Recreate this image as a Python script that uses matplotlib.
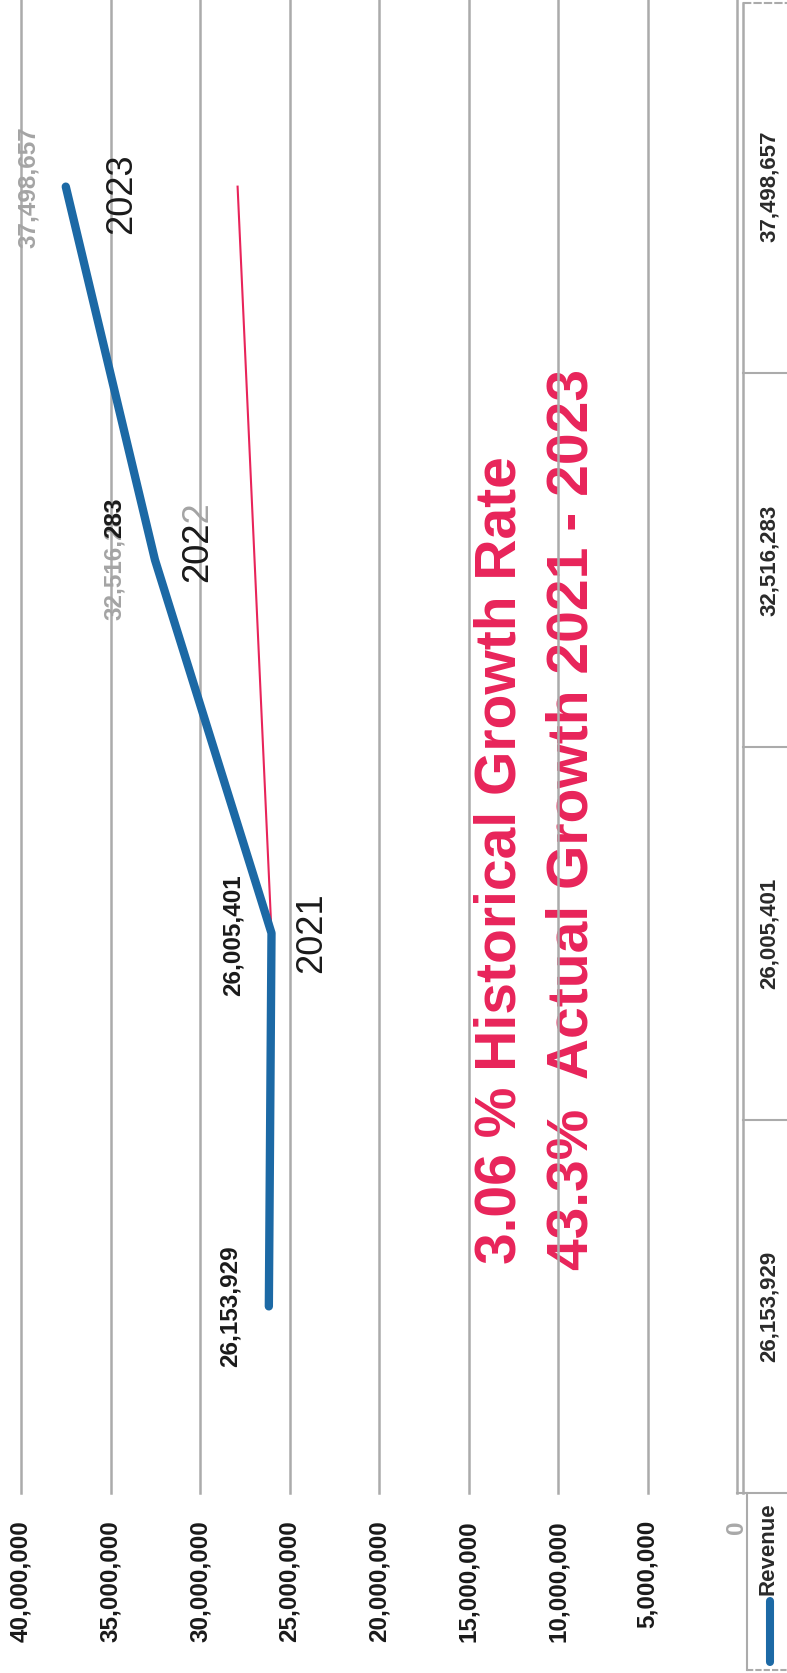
import matplotlib
matplotlib.use("Agg")
import matplotlib.pyplot as plt
import matplotlib.transforms as mtransforms

plt.rcParams['font.family'] = ['Liberation Sans', 'DejaVu Sans']

# ---------------- data ----------------
cat_index = [0, 1, 2, 3]
year_labels = ["", "2021", "2022", "2023"]
revenue = [26153929, 26005401, 32516283, 37498657]
revenue_text = ["26,153,929", "26,005,401", "32,516,283", "37,498,657"]
trend_index = [1, 3]
trend_values = [26005401, 27900000]
value_ticks = [0, 5000000, 10000000, 15000000, 20000000, 25000000, 30000000, 35000000, 40000000]
value_tick_labels = ["0", "5,000,000", "10,000,000", "15,000,000", "20,000,000",
                     "25,000,000", "30,000,000", "35,000,000", "40,000,000"]
series_name = "Revenue"
note1 = "3.06 % Historical Growth Rate"
note2 = "43.3%  Actual Growth 2021 - 2023"

W, H = 787, 1673
BLUE = '#1c69a5'
RED = '#e8245a'
GRID = '#ababab'
GREYTXT = '#a4a4a4'
DARK = '#1a1a1a'

fig = plt.figure(figsize=(W / 100, H / 100), dpi=100)
fig.patch.set_facecolor('white')

# overlay in pixel coordinates
ov = fig.add_axes([0, 0, 1, 1], zorder=0)
ov.set_xlim(0, W)
ov.set_ylim(H, 0)
ov.axis('off')

# main chart axes (rotated layout: value horizontal, categories vertical)
x_left, x_right, y_bottom = 21, 737, 1493
ax = fig.add_axes([x_left / W, (H - y_bottom) / H, (x_right - x_left) / W, y_bottom / H], zorder=1)
ax.patch.set_alpha(0)
ax.set_xlim(40000000, 0)
ax.set_ylim(-0.5, 3.5)
for s in ax.spines.values():
    s.set_visible(False)
ax.set_yticks([])
ax.set_xticks(value_ticks)
ax.set_xticklabels(value_tick_labels, rotation=90, fontsize=17.5, fontweight='bold',
                   color=DARK, ha='center', va='top')
ax.tick_params(axis='x', length=0, pad=19.5)
tl = ax.get_xticklabels()
tl[0].set_color('#a8a8a8')
ax.grid(axis='x', color=GRID, lw=1.8)
ax.set_axisbelow(True)
for gl in ax.get_xgridlines():
    gl.set_clip_on(False)

# series line and trend line
ax.plot(trend_values, trend_index, color=RED, lw=1.5, zorder=3, clip_on=False)
ax.plot(revenue, cat_index, color=BLUE, lw=6.0, solid_capstyle='round',
        solid_joinstyle='round', zorder=4, clip_on=False)

LBL = dict(textcoords='offset pixels', rotation=90, fontsize=17.5, fontweight='bold')

# data labels
ax.annotate(revenue_text[0], xy=(revenue[0], cat_index[0]), xytext=(-39, 0),
            ha='center', va='center', color=DARK, **LBL)
ax.annotate(revenue_text[1], xy=(revenue[1], cat_index[1]), xytext=(-38, -2),
            ha='center', va='center', color=DARK, **LBL)
# mixed colour label (scan artefact): grey full string, black last digits on top
ax.annotate(revenue_text[2], xy=(revenue[2], cat_index[2]), xytext=(-40, 62),
            rotation_mode='anchor', ha='right', va='center', color=GREYTXT, **LBL)
ax.annotate(revenue_text[2][7:], xy=(revenue[2], cat_index[2]), xytext=(-40, 62),
            rotation_mode='anchor', ha='right', va='center', color=DARK, **LBL)
ax.annotate(revenue_text[3], xy=(revenue[3], cat_index[3]), xytext=(-37, 0),
            ha='center', va='center', color=GREYTXT, **LBL)

# year labels
YL = dict(textcoords='offset pixels', rotation=90, fontsize=26)
ax.annotate(year_labels[1], xy=(revenue[1], cat_index[1]), xytext=(40, 0),
            ha='center', va='center', color=DARK, **YL)
ax.annotate(year_labels[2], xy=(revenue[2], cat_index[2]), xytext=(43, -22),
            rotation_mode='anchor', ha='left', va='center', color=GREYTXT, **YL)
ax.annotate(year_labels[2][:3], xy=(revenue[2], cat_index[2]), xytext=(43, -22),
            rotation_mode='anchor', ha='left', va='center', color=DARK, **YL)
ax.annotate(year_labels[3], xy=(revenue[3], cat_index[3]), xytext=(56, -7),
            ha='center', va='center', color=DARK, **YL)

# growth notes
ov.text(500, 860, note1, rotation=90, ha='center', va='center', fontsize=41,
        fontweight='bold', color=RED)
ov.text(573, 820, note2, rotation=90, ha='center', va='center', fontsize=41,
        fontweight='bold', color=RED)

# ---------------- data table ----------------
tb = mtransforms.blended_transform_factory(ov.transData, ax.transData)
ov.plot([743, 743], [3, 1493], color=GRID, lw=1.8)
ov.plot([743, W], [3, 3], color=GRID, lw=1.5, ls=(0, (4, 1)))
for b in [-0.5, 0.5, 1.5, 2.5]:
    x0 = 737 if b == -0.5 else 743
    ov.plot([x0, W], [b, b], color=GRID, lw=1.5, transform=tb, clip_on=False)
for i, t in zip(cat_index, revenue_text):
    ov.text(769, i, t, transform=tb, rotation=90, ha='center', va='center',
            fontsize=16, fontweight='bold', color='#2a2a2a')

# legend cell
ov.plot([747, 747], [1493, 1670], color=GRID, lw=1.5)
ov.plot([747, W], [1670, 1670], color=GRID, lw=1.5, ls=(0, (3, 1)))
ov.text(768, 1549, series_name, rotation=90, ha='center', va='center',
        fontsize=16, fontweight='bold', color='#2a2a2a')
ov.plot([770, 770], [1601, 1662], color=BLUE, lw=5.8, solid_capstyle='round')

fig.savefig("out.png", dpi=100, facecolor='white')
